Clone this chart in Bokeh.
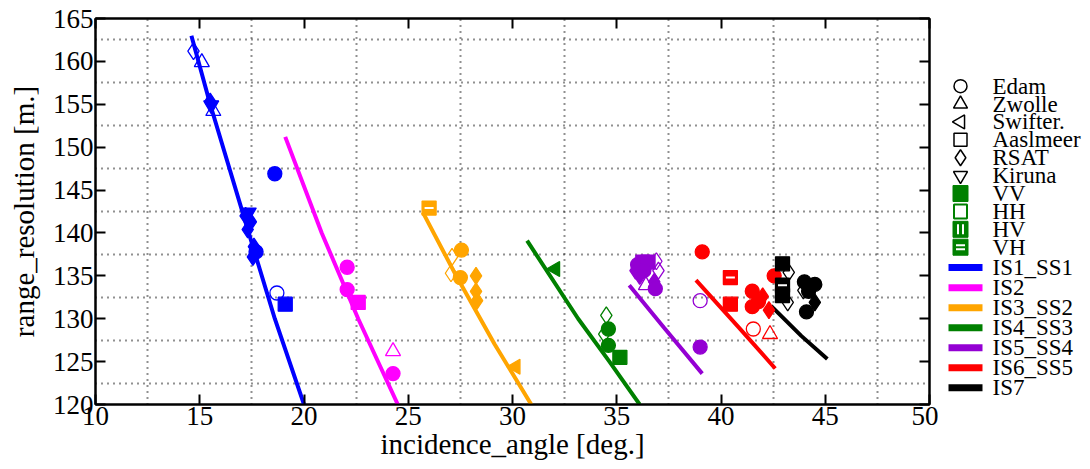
import math
from bokeh.plotting import figure
from bokeh.models import FixedTicker, LinearAxis, ColumnDataSource, Range1d
from bokeh.layouts import row
from bokeh.embed import file_html
from bokeh.resources import INLINE
from bokeh.core.properties import value

FONT = "Liberation Serif"

# ---------------- data ----------------
modes = ["IS1_SS1", "IS2", "IS3_SS2", "IS4_SS3", "IS5_SS4", "IS6_SS5", "IS7"]
mode_colors = ["#0000ff", "#ff00ff", "#ffa500", "#008000", "#9400d3", "#ff0000", "#000000"]

sites = ["Edam", "Zwolle", "Swifter.", "Aaslmeer", "RSAT", "Kiruna"]
pols = ["VV", "HH", "HV", "VH"]

# theoretical range-resolution curves
curve_x = {
    "IS1_SS1": [14.6, 15.5, 17.35, 18.6, 20.0],
    "IS2": [19.1, 20.85, 22.6, 24.5],
    "IS3_SS2": [25.7, 27.3, 29.15, 30.9],
    "IS4_SS3": [30.7, 33.15, 34.65, 36.1],
    "IS5_SS4": [35.6, 37.25, 39.1],
    "IS6_SS5": [38.8, 40.85, 42.6],
    "IS7": [42.4, 43.85, 45.1],
}
curve_y = {
    "IS1_SS1": [163.0, 155.0, 140.0, 130.0, 120.0],
    "IS2": [151.2, 140.0, 130.0, 120.0],
    "IS3_SS2": [142.4, 135.0, 127.0, 120.0],
    "IS4_SS3": [139.1, 130.0, 125.0, 120.0],
    "IS5_SS4": [133.9, 129.0, 123.6],
    "IS6_SS5": [134.5, 129.0, 124.2],
    "IS7": [131.5, 128.0, 125.3],
}

# measured points
pt_mode = (["IS1_SS1"] * 15 + ["IS2"] * 5 + ["IS3_SS2"] * 9 + ["IS4_SS3"] * 6
           + ["IS5_SS4"] * 13 + ["IS6_SS5"] * 11 + ["IS7"] * 11)
pt_site = [
    # IS1_SS1
    "RSAT", "Zwolle", "RSAT", "Kiruna", "Zwolle", "Edam", "RSAT", "RSAT", "RSAT", "Kiruna",
    "RSAT", "Edam", "RSAT", "Edam", "Aaslmeer",
    # IS2
    "Edam", "Edam", "Aaslmeer", "Zwolle", "Edam",
    # IS3_SS2
    "Aaslmeer", "Edam", "RSAT", "RSAT", "Edam", "RSAT", "RSAT", "RSAT", "Swifter.",
    # IS4_SS3
    "Swifter.", "RSAT", "Edam", "RSAT", "Edam", "Aaslmeer",
    # IS5_SS4
    "Edam", "Aaslmeer", "RSAT", "Aaslmeer", "Edam", "RSAT", "RSAT", "RSAT", "Zwolle", "RSAT",
    "Edam", "Edam", "Edam",
    # IS6_SS5
    "Edam", "Aaslmeer", "Aaslmeer", "Edam", "Edam", "Edam", "RSAT", "RSAT", "Edam", "Edam", "Zwolle",
    # IS7
    "Aaslmeer", "RSAT", "Aaslmeer", "Aaslmeer", "RSAT", "Edam", "Edam", "Edam", "RSAT", "Edam", "RSAT",
]
pt_pol = [
    "HH", "HH", "VV", "VV", "HH", "VV", "VV", "VV", "VV", "VV", "VV", "VV", "VV", "HH", "VV",
    "VV", "VV", "VV", "HH", "VV",
    "VH", "VV", "HH", "HH", "VV", "VV", "VV", "VV", "VV",
    "VV", "HH", "VV", "HH", "VV", "VV",
    "VV", "VV", "VV", "VV", "VV", "VV", "HH", "HH", "HH", "VV", "VV", "HH", "VV",
    "VV", "VH", "VV", "VV", "VV", "VV", "VV", "VV", "VV", "HH", "HH",
    "VV", "HH", "VH", "VV", "HH", "VV", "VV", "VV", "VV", "VV", "HH",
]
pt_x = [
    14.7, 15.1, 15.5, 15.55, 15.65, 18.6, 17.2, 17.45, 17.3, 17.35, 17.6, 17.7, 17.55, 18.7, 19.1,
    22.07, 22.07, 22.6, 24.27, 24.27,
    26.0, 27.55, 27.1, 27.05, 27.5, 28.25, 28.25, 28.3, 30.15,
    32.05, 34.5, 34.6, 34.4, 34.6, 35.15,
    36.0, 36.25, 35.9, 36.5, 36.3, 36.1, 36.9, 37.0, 36.4, 36.8, 36.85, 39.0, 39.0,
    39.1, 40.45, 40.45, 42.55, 41.5, 41.5, 42.0, 42.3, 41.8, 41.55, 42.35,
    42.95, 43.25, 42.95, 42.95, 43.2, 44.0, 44.5, 44.2, 44.5, 44.1, 43.95,
]
pt_y = [
    161.2, 159.9, 155.3, 154.9, 154.2, 146.9, 142.0, 141.3, 140.4, 142.4, 138.4, 137.8, 137.2, 133.0, 131.7,
    136.0, 133.4, 131.9, 126.2, 123.6,
    142.9, 138.0, 137.2, 135.3, 134.8, 135.0, 133.2, 132.1, 124.4,
    135.8, 130.4, 128.8, 128.2, 126.9, 125.5,
    136.3, 136.6, 135.6, 136.6, 135.6, 135.0, 136.7, 135.6, 133.9, 134.3, 133.5, 132.1, 126.7,
    137.8, 134.8, 131.7, 135.0, 133.2, 131.4, 132.6, 131.0, 132.0, 128.8, 128.2,
    136.4, 135.4, 133.9, 132.7, 131.9, 134.3, 134.0, 133.2, 131.9, 130.8, 133.3,
]

x_ticks = [10, 15, 20, 25, 30, 35, 40, 45, 50]
y_ticks = [120, 125, 130, 135, 140, 145, 150, 155, 160, 165]

# ---------------- styles ----------------
site_marker = {"Edam": "circle", "Zwolle": "triangle", "Swifter.": "triangle",
               "Aaslmeer": "square", "RSAT": "diamond", "Kiruna": "inverted_triangle"}
site_angle = {"Edam": 0.0, "Zwolle": 0.0, "Swifter.": math.pi / 2,
              "Aaslmeer": 0.0, "RSAT": 0.0, "Kiruna": 0.0}
site_size = {"Edam": 14, "Zwolle": 15, "Swifter.": 15, "Aaslmeer": 14, "RSAT": 17, "Kiruna": 15}
color_of = dict(zip(modes, mode_colors))

W, H = 938, 468
p = figure(width=W, height=H, output_backend="svg", toolbar_location=None,
           x_range=Range1d(10, 50), y_range=Range1d(120, 165),
           min_border_left=95, min_border_right=9, min_border_top=18, min_border_bottom=64)
p.background_fill_color = "white"
p.border_fill_color = "white"
p.outline_line_color = "black"
p.outline_line_width = 2

for ax in (p.xaxis[0], p.yaxis[0]):
    ax.major_label_text_font = FONT
    ax.major_label_text_font_size = "27px"
    ax.major_label_text_color = "black"
    ax.axis_label_text_font = FONT
    ax.axis_label_text_font_size = "29px"
    ax.axis_label_text_font_style = "normal"
    ax.axis_label_text_color = "black"
    ax.axis_line_width = 2
    ax.axis_line_color = "black"
    ax.major_tick_in = 10
    ax.major_tick_out = 0
    ax.major_tick_line_width = 2
    ax.minor_tick_line_color = None
    ax.major_label_standoff = 2
    ax.axis_label_standoff = 0

p.yaxis[0].axis_label_standoff = 10
p.xaxis[0].ticker = FixedTicker(ticks=x_ticks)
p.yaxis[0].ticker = FixedTicker(ticks=y_ticks)
p.xaxis[0].axis_label = "incidence_angle [deg.]"
p.yaxis[0].axis_label = "range_resolution [m.]"

top = LinearAxis(ticker=FixedTicker(ticks=x_ticks), major_label_text_font_size="1px",
                 major_label_text_color=None,
                 major_tick_in=10, major_tick_out=0, major_tick_line_width=2,
                 minor_tick_line_color=None, axis_line_width=2, major_label_standoff=0)
right = LinearAxis(ticker=FixedTicker(ticks=y_ticks), major_label_text_font_size="1px",
                   major_label_text_color=None,
                   major_tick_in=10, major_tick_out=0, major_tick_line_width=2,
                   minor_tick_line_color=None, axis_line_width=2, major_label_standoff=0)
p.add_layout(top, "above")
p.add_layout(right, "right")

mid_x = [(a + b) / 2 for a, b in zip(x_ticks[:-1], x_ticks[1:])]
mid_y = [(a + b) / 2 for a, b in zip(y_ticks[:-1], y_ticks[1:])]
p.xgrid.ticker = FixedTicker(ticks=mid_x)
p.ygrid.ticker = FixedTicker(ticks=mid_y)
for g in (p.xgrid, p.ygrid):
    g.grid_line_color = "#222222"
    g.grid_line_dash = "1 5"
    g.grid_line_width = 2

# curves
for m in modes:
    p.line(curve_x[m], curve_y[m], line_color=color_of[m], line_width=4)

# points
src = ColumnDataSource(dict(
    x=pt_x, y=pt_y,
    marker=[site_marker[s] for s in pt_site],
    angle=[site_angle[s] for s in pt_site],
    size=[site_size[s] for s in pt_site],
    color=[color_of[m] for m in pt_mode],
    fill_alpha=[0.0 if q == "HH" else 1.0 for q in pt_pol],
))
p.scatter("x", "y", source=src, marker="marker", angle="angle", size="size",
          line_color="color", fill_color="color", fill_alpha="fill_alpha", line_width=1.3)

vh = [i for i, q in enumerate(pt_pol) if q == "VH"]
p.scatter([pt_x[i] for i in vh], [pt_y[i] for i in vh], marker="dash", size=9,
          line_color="white", line_width=2)

# ---------------- legend panel ----------------
LW = 144
lg = figure(width=LW, height=H, output_backend="svg", toolbar_location=None,
            x_range=Range1d(0, LW), y_range=Range1d(0, H),
            x_axis_location=None, y_axis_location=None,
            min_border=0, min_border_left=0, min_border_right=0,
            min_border_top=0, min_border_bottom=0)
lg.grid.visible = False
lg.outline_line_color = None
lg.background_fill_color = "white"
lg.border_fill_color = "white"

mk_x, txt_x = 22, 54
site_y = [H - (82 + 21.7 * i) for i in range(len(sites))]
lg.scatter([mk_x] * len(sites), site_y,
           marker=[site_marker[s] for s in sites],
           angle=[site_angle[s] for s in sites],
           size=[site_size[s] - 1 for s in sites],
           fill_color="white", line_color="black", line_width=1.5)

pol_y = [H - (82 + 21.7 * (len(sites) + i)) for i in range(len(pols))]
g = "#008000"
lg.rect([mk_x], [pol_y[0]], width=15, height=16, width_units="screen", height_units="screen",
        fill_color=g, line_color=g)
lg.rect([mk_x], [pol_y[1]], width=13, height=14, width_units="screen", height_units="screen",
        fill_color="white", line_color=g, line_width=2)
lg.rect([mk_x], [pol_y[2]], width=15, height=16, width_units="screen", height_units="screen",
        fill_color=g, line_color=g)
lg.rect([mk_x - 2.5, mk_x + 2.5], [pol_y[2]] * 2, width=2, height=10,
        width_units="screen", height_units="screen", fill_color="white", line_color=None)
lg.rect([mk_x], [pol_y[3]], width=15, height=16, width_units="screen", height_units="screen",
        fill_color=g, line_color=g)
lg.rect([mk_x, mk_x], [pol_y[3] + 2.5, pol_y[3] - 2.5], width=9, height=2,
        width_units="screen", height_units="screen", fill_color="white", line_color=None)

mode_y = [H - (302 + 24.3 * i) for i in range(len(modes))]
lg.segment(x0=[10] * len(modes), y0=mode_y, x1=[44] * len(modes), y1=mode_y,
           line_color=mode_colors, line_width=7, line_cap="butt")

lg.text(x=[txt_x] * (len(sites) + len(pols) + len(modes)),
        y=site_y + pol_y + mode_y,
        text=sites + pols + modes,
        text_font=value(FONT), text_font_size="23px", text_baseline="middle",
        text_color="black")

layout = row(p, lg)
open("out.html", "w").write(file_html(layout, INLINE))
